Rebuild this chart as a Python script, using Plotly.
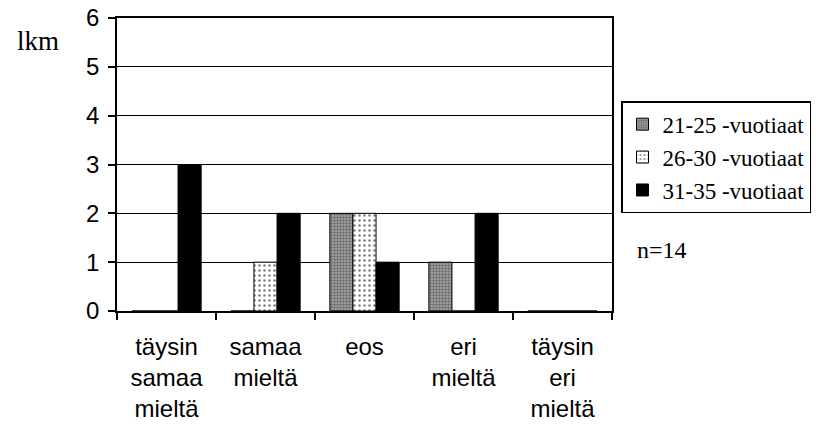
import plotly.graph_objects as go

# Survey answers (count of respondents) by age group
categories = [
    "täysin<br>samaa<br>mieltä",
    "samaa<br>mieltä",
    "eos",
    "eri<br>mieltä",
    "täysin<br>eri<br>mieltä",
]
group_names = ["21-25 -vuotiaat", "26-30 -vuotiaat", "31-35 -vuotiaat"]
counts_21_25 = [0, 0, 2, 1, 0]
counts_26_30 = [0, 1, 2, 0, 0]
counts_31_35 = [3, 2, 1, 2, 0]
y_ticks = [0, 1, 2, 3, 4, 5, 6]

SANS = "Liberation Sans, Arial, sans-serif"
SERIF = "Liberation Serif, Times New Roman, serif"

patterns = [
    dict(shape=".", size=3, solidity=0.5, fgcolor="#2a2a2a", bgcolor="#a8a8a8"),
    dict(shape=".", size=5, solidity=0.2, fgcolor="#000000", bgcolor="#ffffff"),
    dict(shape="", fgcolor="#000000", bgcolor="#000000"),
]
fills = ["#808080", "#ffffff", "#000000"]

fig = go.Figure()
for name, vals, pat, col in zip(group_names, [counts_21_25, counts_26_30, counts_31_35], patterns, fills):
    fig.add_trace(go.Bar(
        x=categories,
        y=vals,
        name=name,
        marker=dict(color=col, pattern=pat, line=dict(color="#000000", width=1)),
    ))

fig.update_layout(
    width=816,
    height=426,
    margin=dict(l=117, r=204, t=18, b=115, autoexpand=False),
    paper_bgcolor="#ffffff",
    plot_bgcolor="#ffffff",
    barmode="group",
    bargap=0.30,
    bargroupgap=0,
    font=dict(family=SANS, size=24, color="#000000"),
    showlegend=True,
    legend=dict(
        x=(621 - 117) / 495, y=0.716, xanchor="left", yanchor="top",
        bordercolor="#000000", borderwidth=1.5,
        font=dict(family=SERIF, size=23, color="#000000"),
        tracegroupgap=0, itemwidth=30,
        bgcolor="#ffffff",
    ),
    xaxis=dict(
        type="category",
        tickson="boundaries",
        ticks="outside", ticklen=7, tickcolor="#000000", tickwidth=1.5,
        showline=True, linecolor="#000000", linewidth=1.5, mirror=True,
        showgrid=False,
        tickfont=dict(family=SANS, size=24),
        ticklabelstandoff=13,
    ),
    yaxis=dict(
        range=[0, 6],
        tickvals=y_ticks,
        ticks="outside", ticklen=7, tickcolor="#000000", tickwidth=1.5,
        showline=True, linecolor="#000000", linewidth=1.5, mirror=True,
        showgrid=True, gridcolor="#000000", gridwidth=1,
        zeroline=False,
        tickfont=dict(family=SANS, size=24),
        ticklabelstandoff=4,
    ),
    annotations=[
        dict(text="lkm", xref="paper", yref="paper", x=(38 - 117) / 495, y=(311 - 41) / 293,
             xanchor="center", yanchor="middle", showarrow=False,
             font=dict(family=SERIF, size=27)),
        dict(text="n=14", xref="paper", yref="paper", x=(635 - 117) / 495, y=(311 - 250) / 293,
             xanchor="left", yanchor="middle", showarrow=False,
             font=dict(family=SERIF, size=24)),
    ],
)

fig.write_html("out.html")
